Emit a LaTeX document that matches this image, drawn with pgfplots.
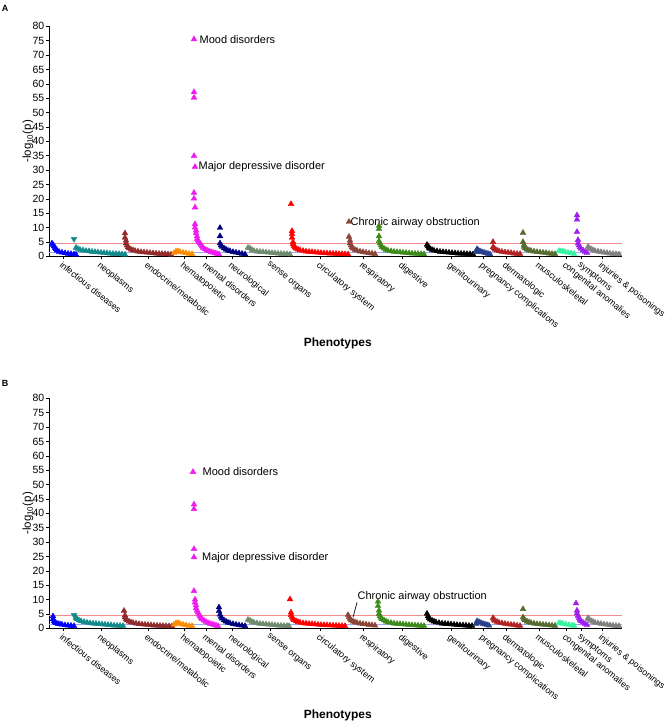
\documentclass[border=0pt]{standalone}
\usepackage{fontspec}
\setmainfont{Liberation Sans}
\usepackage{pgfplots}
\pgfplotsset{compat=1.18}
\definecolor{cInf}{HTML}{0000FF}
\definecolor{cNeo}{HTML}{138A8A}
\definecolor{cEnd}{HTML}{922B2B}
\definecolor{cHem}{HTML}{FF8C00}
\definecolor{cMen}{HTML}{EE1CEE}
\definecolor{cNeu}{HTML}{00007F}
\definecolor{cSen}{HTML}{6E8B6E}
\definecolor{cCir}{HTML}{FF0000}
\definecolor{cRes}{HTML}{8B4538}
\definecolor{cDig}{HTML}{3E8B1C}
\definecolor{cGen}{HTML}{000000}
\definecolor{cPre}{HTML}{27408B}
\definecolor{cDer}{HTML}{B22222}
\definecolor{cMus}{HTML}{556B2F}
\definecolor{cCon}{HTML}{33F5A0}
\definecolor{cSym}{HTML}{A020F0}
\definecolor{cInj}{HTML}{808080}
\definecolor{sigRed}{HTML}{F28A8A}
\definecolor{sigBlue}{HTML}{9AA8F0}
\pgfplotsset{
 phe/.style={scale only axis, width=573bp, height=230bp, xmin=49, xmax=622, ymin=0, ymax=80, clip=false,
  axis x line*=bottom, axis y line*=left, ytick={0,5,...,80},
  xtick={63,101,148,184,206,232,270,320,363,402,451,483,506,539,566,581,602},
  xticklabels={infectious diseases, neoplasms, endocrine/metabolic, hematopoietic, mental disorders, neurological, sense organs, circulatory system, respiratory, digestive, genitourinary, pregnancy complications, dermatologic, musculoskeletal, congenital anomalies, symptoms, injuries \& poisonings},
  x tick label style={rotate=-39, anchor=north west, font=\fontsize{9}{11}\selectfont, inner sep=1bp},
  y tick label style={font=\fontsize{10.5}{12}\selectfont, inner sep=1.5bp},
  tick align=outside, major tick length=3bp, tick style={black, line width=0.5bp},
  axis line style={black, line width=0.6bp},
  /pgf/number format/assume math mode=true,
  ylabel={-log\textsubscript{10}(p)},
  ylabel style={at={(axis description cs:-0.0366,0.5)}, anchor=center, font=\fontsize{11.5}{13}\selectfont},
  xlabel={Phenotypes},
  xlabel style={at={(axis description cs:0.504,-0.377)}, anchor=center, font=\bfseries\fontsize{12}{14}\selectfont}},
 pm/.style={only marks, mark=triangle*, mark size=3.3bp, color=#1, mark options={draw=#1, fill=#1}},
}
\begin{document}
\begin{tikzpicture}
\path[use as bounding box] (0,0) rectangle (666bp,-721bp);
\node[font=\bfseries\fontsize{9}{10}\selectfont] at (5bp,-8bp) {A};
\node[font=\bfseries\fontsize{9}{10}\selectfont] at (5bp,-383bp) {B};
% ---------------- Panel A ----------------
\begin{axis}[phe, at={(49bp,-256.3bp)}, anchor=south west]
\addplot[sigRed, line width=0.9bp] coordinates {(49,4.5) (622,4.5)};
\addplot[sigBlue, line width=0.7bp] coordinates {(49,1.3) (622,1.3)};
\addplot[pm=cInf] coordinates {(52,4.5)(53,4.0)(54,3.5)(55,3.0)(56,2.5)(57,2.0)(59,1.6)(62,1.3)(65,1.1)(68,0.9)(71,0.8)(74,0.7)(76,0.6)};
\addplot[pm=cNeo, mark options={rotate=180}] coordinates {(74,6.0)};
\addplot[pm=cNeo] coordinates {(76,3.0)(78,2.6)(80,2.3)(83,2.1)(86,1.9)(89,1.8)(92,1.6)(95,1.5)(98,1.4)(101,1.3)(104,1.2)(107,1.1)(110,1.0)(113,0.9)(116,0.85)(119,0.8)(122,0.7)(125,0.6)};
\addplot[pm=cEnd] coordinates {(125,8.0)(125,6.5)(126,5.5)(126,4.5)(127,3.8)(128,3.2)(129,2.8)(131,2.4)(133,2.1)(135,1.9)(138,1.7)(141,1.5)(144,1.4)(147,1.3)(150,1.2)(153,1.1)(156,1.0)(159,0.9)(162,0.85)(165,0.8)(168,0.7)(171,0.6)};
\addplot[pm=cHem] coordinates {(174,1.2)(176,1.7)(178,1.8)(180,1.5)(183,1.3)(186,1.1)(189,0.9)(192,0.8)};
\addplot[pm=cMen] coordinates {(194,75.5)(194,57.1)(194,55.2)(194,34.9)(195,31.1)(194,22.1)(194,20.1)(195,17.0)(195,11.2)(195,10)(196,9)(196,8)(197,7)(197,6)(198,5.5)(199,5)(200,4.5)(201,4)(202,3.5)(203,3)(205,2.5)(207,2.1)(209,1.8)(211,1.5)(213,1.3)(215,1.1)(217,0.9)(219,0.7)};
\addplot[pm=cNeu] coordinates {(220,9.9)(220,7.0)(220,4.5)(221,3.8)(222,3.3)(224,2.8)(226,2.4)(228,2.0)(230,1.8)(233,1.5)(236,1.3)(239,1.1)(242,0.9)(245,0.7)};
\addplot[pm=cSen] coordinates {(248,3.0)(250,2.8)(252,2.2)(254,1.9)(257,1.7)(260,1.6)(263,1.5)(266,1.4)(269,1.3)(272,1.2)(275,1.1)(278,1.0)(281,0.9)(284,0.85)(287,0.8)(290,0.7)};
\addplot[pm=cCir] coordinates {(291,18.2)(292,8.8)(292,7.8)(292,6.5)(293,5)(293,4.2)(294,3.6)(295,3.1)(296,2.7)(298,2.4)(300,2.1)(303,1.9)(306,1.7)(309,1.6)(312,1.5)(315,1.4)(318,1.3)(321,1.2)(324,1.1)(327,1.05)(330,1.0)(333,0.95)(336,0.9)(339,0.85)(342,0.8)(345,0.75)(348,0.7)};
\addplot[pm=cRes] coordinates {(349,12.0)(349,6.8)(350,5.5)(350,4.5)(351,3.8)(352,3.2)(353,2.7)(355,2.3)(357,2.0)(360,1.7)(363,1.5)(366,1.3)(369,1.1)(372,1.0)(375,0.8)};
\addplot[pm=cDig] coordinates {(379,10.6)(379,9.6)(379,7)(379,5.3)(380,4.5)(381,3.8)(382,3.2)(384,2.7)(386,2.3)(388,2.0)(391,1.8)(394,1.6)(397,1.5)(400,1.4)(403,1.3)(406,1.2)(409,1.1)(412,1.0)(415,0.95)(418,0.9)(421,0.8)(424,0.75)};
\addplot[pm=cGen] coordinates {(427,4.0)(428,3.5)(429,3.0)(430,2.6)(432,2.3)(434,2.0)(437,1.8)(440,1.6)(443,1.5)(446,1.4)(449,1.3)(452,1.2)(455,1.1)(458,1.0)(461,0.95)(464,0.9)(467,0.85)(470,0.8)(473,0.7)};
\addplot[pm=cPre] coordinates {(476,1.5)(477,2.5)(478,2.2)(480,1.8)(482,1.5)(484,1.3)(486,1.1)(488,0.9)(490,0.7)};
\addplot[pm=cDer] coordinates {(493,5.0)(493,3.2)(494,2.8)(495,2.4)(497,2.1)(499,1.8)(502,1.6)(505,1.4)(508,1.3)(511,1.2)(514,1.0)(517,0.9)(520,0.8)};
\addplot[pm=cMus] coordinates {(523,8.2)(523,5.0)(524,4.0)(524,3.3)(525,2.8)(527,2.4)(529,2.1)(531,1.9)(534,1.7)(537,1.5)(540,1.4)(543,1.3)(546,1.2)(549,1.0)(552,0.9)(555,0.8)};
\addplot[pm=cCon] coordinates {(559,1.9)(561,1.8)(563,1.7)(565,1.5)(568,1.3)(571,1.1)(574,0.9)};
\addplot[pm=cSym] coordinates {(577,14.3)(577,12.8)(577,8.5)(578,5.7)(578,4.5)(579,3.8)(580,3.2)(581,2.6)(583,2.1)(585,1.6)(587,1.2)};
\addplot[pm=cInj] coordinates {(588,3.3)(589,2.9)(591,2.5)(593,2.2)(595,1.9)(598,1.7)(601,1.5)(604,1.3)(607,1.2)(610,1.0)(613,0.9)(616,0.8)(619,0.7)};
\node[anchor=west, inner sep=0, font=\fontsize{11}{13}\selectfont] at (axis cs:199.5,75.5) {Mood disorders};
\node[anchor=west, inner sep=0, font=\fontsize{11}{13}\selectfont] at (axis cs:198.5,31.1) {Major depressive disorder};
\node[anchor=west, inner sep=0, font=\fontsize{11}{13}\selectfont] at (axis cs:350.5,11.8) {Chronic airway obstruction};
\end{axis}
% ---------------- Panel B ----------------
\begin{axis}[phe, at={(49bp,-628.3bp)}, anchor=south west]
\addplot[sigRed, line width=0.9bp] coordinates {(49,4.4) (622,4.4)};
\addplot[sigBlue, line width=0.7bp] coordinates {(49,1.3) (622,1.3)};
\addplot[pm=cInf] coordinates {(53,4.2)(53,3.2)(54,2.5)(55,2.1)(56,1.8)(58,1.6)(60,1.4)(62,1.3)(65,1.1)(68,1.0)(71,0.9)(74,0.8)};
\addplot[pm=cNeo, mark options={rotate=180}] coordinates {(74,4.6)};
\addplot[pm=cNeo] coordinates {(76,3.6)(77,3.2)(79,2.8)(81,2.5)(84,2.2)(87,2.0)(90,1.8)(93,1.7)(96,1.6)(99,1.5)(102,1.4)(105,1.3)(108,1.2)(111,1.1)(114,1.0)(117,0.95)(120,0.9)(123,0.85)};
\addplot[pm=cEnd] coordinates {(124,6.1)(125,4.5)(125,3.8)(126,3.2)(127,2.8)(129,2.4)(131,2.1)(133,1.9)(136,1.7)(139,1.5)(142,1.4)(145,1.3)(148,1.2)(151,1.1)(154,1.0)(157,0.95)(160,0.9)(163,0.85)(166,0.8)(169,0.75)(172,0.7)};
\addplot[pm=cHem] coordinates {(174,1.3)(176,1.8)(178,1.9)(180,1.6)(183,1.3)(186,1.1)(189,0.9)(192,0.8)};
\addplot[pm=cMen] coordinates {(193,54.4)(194,43.1)(194,41.5)(194,27.6)(194,24.7)(194,13.0)(195,10)(195,9)(196,8)(196,7)(197,6.2)(198,5.5)(199,4.8)(200,4.2)(201,3.7)(202,3.2)(204,2.7)(206,2.3)(208,1.9)(210,1.6)(212,1.4)(214,1.2)(216,1.0)(218,0.8)};
\addplot[pm=cNeu] coordinates {(219,7.3)(219,6.0)(220,4.8)(221,4.0)(222,3.4)(224,2.8)(226,2.4)(228,2.0)(230,1.8)(233,1.5)(236,1.3)(239,1.1)(242,0.95)(245,0.8)};
\addplot[pm=cSen] coordinates {(248,3.0)(250,2.7)(252,2.3)(254,2.0)(257,1.8)(260,1.6)(263,1.5)(266,1.4)(269,1.3)(272,1.2)(275,1.1)(278,1.0)(281,0.95)(284,0.9)(287,0.85)(289,0.8)};
\addplot[pm=cCir] coordinates {(290,10.1)(291,5.5)(291,4.6)(292,3.9)(293,3.3)(294,2.9)(296,2.5)(298,2.2)(300,2.0)(303,1.8)(306,1.7)(309,1.6)(312,1.5)(315,1.4)(318,1.3)(321,1.2)(324,1.15)(327,1.1)(330,1.05)(333,1.0)(336,0.95)(339,0.9)(342,0.85)(345,0.8)};
\addplot[pm=cRes] coordinates {(348,4.6)(349,3.9)(350,3.3)(351,2.8)(353,2.4)(355,2.1)(357,1.9)(360,1.7)(363,1.5)(366,1.4)(369,1.2)(372,1.1)(375,1.0)};
\addplot[pm=cDig] coordinates {(378,9.3)(378,7.8)(379,6.2)(379,5.0)(380,4.3)(381,3.7)(382,3.2)(384,2.8)(386,2.4)(388,2.1)(391,1.9)(394,1.7)(397,1.6)(400,1.5)(403,1.4)(406,1.3)(409,1.2)(412,1.1)(415,1.05)(418,1.0)(421,0.9)(424,0.85)};
\addplot[pm=cGen] coordinates {(427,5.1)(428,4.2)(429,3.6)(430,3.1)(432,2.7)(434,2.4)(436,2.1)(439,1.9)(442,1.7)(445,1.6)(448,1.5)(451,1.4)(454,1.3)(457,1.2)(460,1.1)(463,1.05)(466,1.0)(469,0.9)(472,0.85)};
\addplot[pm=cPre] coordinates {(476,1.6)(477,2.5)(479,2.2)(481,1.9)(483,1.6)(485,1.4)(487,1.2)(489,1.0)};
\addplot[pm=cDer] coordinates {(493,3.6)(494,3.0)(495,2.6)(497,2.3)(499,2.0)(502,1.8)(505,1.6)(508,1.4)(511,1.3)(514,1.2)(517,1.0)(520,0.9)};
\addplot[pm=cMus] coordinates {(523,6.7)(523,3.8)(524,3.2)(525,2.8)(527,2.4)(529,2.1)(531,1.9)(534,1.7)(537,1.5)(540,1.4)(543,1.3)(546,1.2)(549,1.1)(552,1.0)(555,0.9)};
\addplot[pm=cCon] coordinates {(559,1.9)(561,1.8)(563,1.6)(566,1.4)(569,1.2)(572,1.0)(574,0.9)};
\addplot[pm=cSym] coordinates {(576,8.7)(577,6.2)(577,5.2)(578,4.4)(579,3.6)(580,3.0)(581,2.5)(583,2.0)(585,1.6)(587,1.2)};
\addplot[pm=cInj] coordinates {(588,3.6)(589,3.1)(591,2.6)(593,2.3)(595,2.0)(598,1.8)(601,1.6)(604,1.4)(607,1.3)(610,1.1)(613,1.0)(616,0.9)(619,0.8)};
\node[anchor=west, inner sep=0, font=\fontsize{11}{13}\selectfont] at (axis cs:202.5,54.4) {Mood disorders};
\node[anchor=west, inner sep=0, font=\fontsize{11}{13}\selectfont] at (axis cs:202,24.7) {Major depressive disorder};
\node[anchor=west, inner sep=0, font=\fontsize{11}{13}\selectfont] at (axis cs:357.5,11.0) {Chronic airway obstruction};
\draw[black, line width=0.7bp] (axis cs:357,9) -- (axis cs:353,3.8);
\end{axis}
\end{tikzpicture}
\end{document}
